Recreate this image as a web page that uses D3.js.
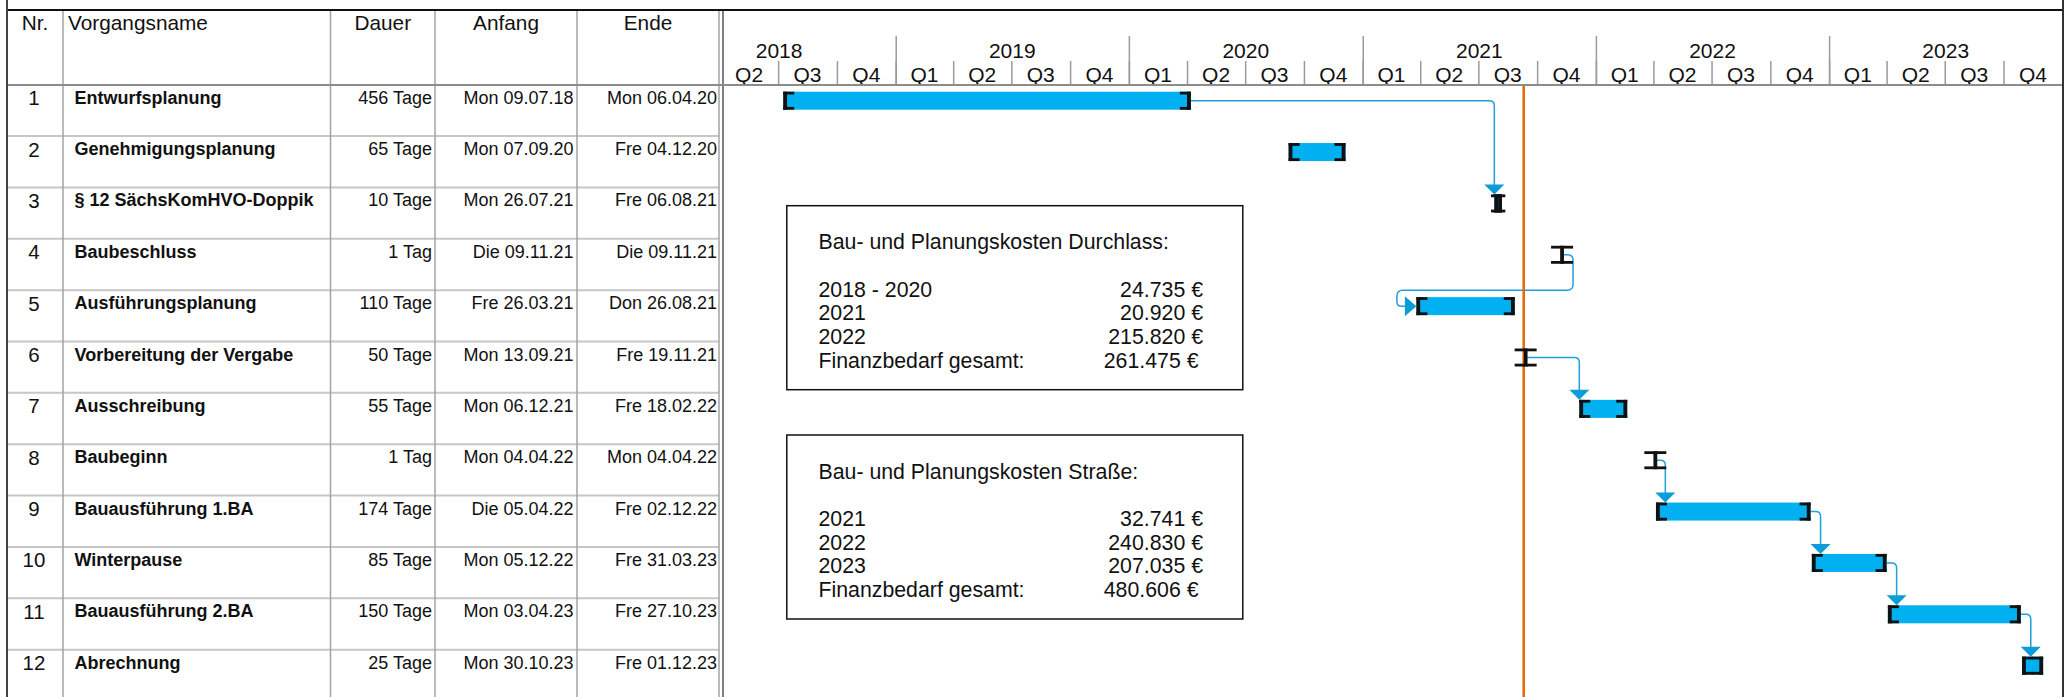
<!DOCTYPE html>
<html><head><meta charset="utf-8">
<script src="https://cdn.jsdelivr.net/npm/d3@7"></script>
<style>
body{margin:0;background:#fff;}
svg{display:block;}
text{font-family:"Liberation Sans",Arial,Helvetica,sans-serif;fill:#111;}
</style>
</head><body>
<svg id="chart" width="2069" height="697"></svg>
<script>
// ---------------- DATA ----------------
const headerLabels = ["Nr.", "Vorgangsname", "Dauer", "Anfang", "Ende"];
const taskIds = [1, 2, 3, 4, 5, 6, 7, 8, 9, 10, 11, 12];
const taskNames = ["Entwurfsplanung", "Genehmigungsplanung", "§ 12 SächsKomHVO-Doppik", "Baubeschluss",
  "Ausführungsplanung", "Vorbereitung der Vergabe", "Ausschreibung", "Baubeginn",
  "Bauausführung 1.BA", "Winterpause", "Bauausführung 2.BA", "Abrechnung"];
const taskDurations = ["456 Tage", "65 Tage", "10 Tage", "1 Tag", "110 Tage", "50 Tage", "55 Tage", "1 Tag",
  "174 Tage", "85 Tage", "150 Tage", "25 Tage"];
const taskStarts = ["Mon 09.07.18", "Mon 07.09.20", "Mon 26.07.21", "Die 09.11.21", "Fre 26.03.21", "Mon 13.09.21",
  "Mon 06.12.21", "Mon 04.04.22", "Die 05.04.22", "Mon 05.12.22", "Mon 03.04.23", "Mon 30.10.23"];
const taskEnds = ["Mon 06.04.20", "Fre 04.12.20", "Fre 06.08.21", "Die 09.11.21", "Don 26.08.21", "Fre 19.11.21",
  "Fre 18.02.22", "Mon 04.04.22", "Fre 02.12.22", "Fre 31.03.23", "Fre 27.10.23", "Fre 01.12.23"];
const taskMilestone = [false, false, false, true, false, true, false, true, false, false, false, false];
const linkFrom = [1, 4, 6, 8, 9, 10, 11];
const linkTo   = [3, 5, 7, 9, 10, 11, 12];
const statusDate = "10.09.21";
const timelineStart = "01.04.18";
const timelineEnd = "01.01.24";

const box1Title = "Bau- und Planungskosten Durchlass:";
const box1Labels = ["2018 - 2020", "2021", "2022"];
const box1Values = ["24.735 €", "20.920 €", "215.820 €"];
const box1TotalLabel = "Finanzbedarf gesamt:";
const box1Total = "261.475 €";

const box2Title = "Bau- und Planungskosten Straße:";
const box2Labels = ["2021", "2022", "2023"];
const box2Values = ["32.741 €", "240.830 €", "207.035 €"];
const box2TotalLabel = "Finanzbedarf gesamt:";
const box2Total = "480.606 €";

// ---------------- HELPERS ----------------
function parseDE(s) {
  const m = s.match(/(\d\d)\.(\d\d)\.(\d\d)$/);
  return new Date(Date.UTC(2000 + (+m[3]), (+m[2]) - 1, +m[1]));
}
function roundedPath(pts, r) {
  let d = `M${pts[0][0]},${pts[0][1]}`;
  for (let i = 1; i < pts.length - 1; i++) {
    const [x0, y0] = pts[i - 1], [x1, y1] = pts[i], [x2, y2] = pts[i + 1];
    const d1 = Math.hypot(x1 - x0, y1 - y0), d2 = Math.hypot(x2 - x1, y2 - y1);
    const rr = Math.min(r, d1 / 2, d2 / 2);
    const ax = x1 - (x1 - x0) / d1 * rr, ay = y1 - (y1 - y0) / d1 * rr;
    const bx = x1 + (x2 - x1) / d2 * rr, by = y1 + (y2 - y1) / d2 * rr;
    d += `L${ax},${ay}Q${x1},${y1} ${bx},${by}`;
  }
  const l = pts[pts.length - 1];
  d += `L${l[0]},${l[1]}`;
  return d;
}

const tasks = taskIds.map((id, i) => ({
  id, name: taskNames[i], dur: taskDurations[i], startLabel: taskStarts[i], endLabel: taskEnds[i],
  start: parseDE(taskStarts[i]), end: d3.utcDay.offset(parseDE(taskEnds[i]), 1), milestone: taskMilestone[i]
}));
const byId = new Map(tasks.map(t => [t.id, t]));

// ---------------- LAYOUT ----------------
const svg = d3.select("#chart");
const W = 2069, H = 697;
const frameL = 7, frameR = 2063, frameT = 10, headerB = 85;
const colX = [7, 63, 330.5, 435, 577, 719];
const ganttL = 720, ganttR = 2062.3;

const x = d3.scaleUtc().domain([parseDE(timelineStart), parseDE(timelineEnd)]).range([ganttL, ganttR]);
const y = d3.scaleBand().domain(taskIds).range([84.7, 84.7 + 12 * 51.36]).padding(0);
const barOff = 7, barH = 18;

// ---------------- TABLE ----------------
const tbl = svg.append("g");
tbl.selectAll("line.row").data(taskIds).join("line")
  .attr("x1", colX[0]).attr("x2", colX[5])
  .attr("y1", d => y(d) + y.bandwidth()).attr("y2", d => y(d) + y.bandwidth())
  .attr("stroke", "#c6c6c6").attr("stroke-width", 2);
tbl.selectAll("line.col").data(colX.slice(1)).join("line")
  .attr("x1", d => d).attr("x2", d => d).attr("y1", frameT).attr("y2", H)
  .attr("stroke", "#a3a3a3").attr("stroke-width", 1.5);
svg.append("line").attr("x1", 723).attr("x2", 723).attr("y1", frameT).attr("y2", H)
  .attr("stroke", "#555").attr("stroke-width", 1.5);

const hdrPos = [
  { x: (colX[0] + colX[1]) / 2, a: "middle" },
  { x: colX[1] + 5, a: "start" },
  { x: (colX[2] + colX[3]) / 2, a: "middle" },
  { x: (colX[3] + colX[4]) / 2, a: "middle" },
  { x: (colX[4] + colX[5]) / 2, a: "middle" }
];
tbl.selectAll("text.hdr").data(headerLabels).join("text")
  .attr("x", (d, i) => hdrPos[i].x).attr("y", 29.5).attr("text-anchor", (d, i) => hdrPos[i].a)
  .attr("font-size", 20.8).text(d => d);

const rows = tbl.selectAll("g.r").data(tasks).join("g");
rows.append("text").attr("x", (colX[0] + colX[1]) / 2 - 1).attr("y", d => y(d.id) + 20.5)
  .attr("text-anchor", "middle").attr("font-size", 20.5).text(d => d.id);
rows.append("text").attr("x", 74.5).attr("y", d => y(d.id) + 19)
  .attr("font-size", 18).attr("font-weight", "bold").text(d => d.name);
rows.append("text").attr("x", colX[3] - 3).attr("y", d => y(d.id) + 19)
  .attr("text-anchor", "end").attr("font-size", 18).text(d => d.dur);
rows.append("text").attr("x", colX[4] - 3.5).attr("y", d => y(d.id) + 19)
  .attr("text-anchor", "end").attr("font-size", 18).text(d => d.startLabel);
rows.append("text").attr("x", colX[5] - 2).attr("y", d => y(d.id) + 19)
  .attr("text-anchor", "end").attr("font-size", 18).text(d => d.endLabel);

// ---------------- TIMESCALE HEADER ----------------
const quarters = d3.utcMonth.every(3).range(x.domain()[0], x.domain()[1]);
const yearsAll = d3.utcYear.range(d3.utcYear.floor(x.domain()[0]), x.domain()[1]);
const yearStarts = yearsAll.filter(d => x(d) > ganttL + 1);

const qAxis = d3.axisTop(x).tickValues(quarters.filter(d => x(d) > ganttL + 1)).tickSize(24).tickFormat("");
const gq = svg.append("g").attr("transform", `translate(0,${headerB})`).call(qAxis);
gq.select(".domain").remove();
gq.selectAll(".tick line").attr("stroke", "#9a9a9a").attr("stroke-width", 1.5);

const yAxis = d3.axisTop(x).tickValues(yearStarts).tickSize(49).tickFormat("");
const gy = svg.append("g").attr("transform", `translate(0,${headerB})`).call(yAxis);
gy.select(".domain").remove();
gy.selectAll(".tick line").attr("stroke", "#9a9a9a").attr("stroke-width", 1.5);

svg.selectAll("text.q").data(quarters).join("text")
  .attr("x", d => (x(d) + x(d3.utcMonth.offset(d, 3))) / 2).attr("y", 82)
  .attr("text-anchor", "middle").attr("font-size", 21)
  .text(d => "Q" + (Math.floor(d.getUTCMonth() / 3) + 1));
svg.selectAll("text.yr").data(yearsAll).join("text")
  .attr("x", d => (x(d) + x(d3.utcYear.offset(d, 1))) / 2).attr("y", 58)
  .attr("text-anchor", "middle").attr("font-size", 21)
  .text(d => d.getUTCFullYear());

svg.append("line").attr("x1", frameL).attr("x2", frameR).attr("y1", headerB).attr("y2", headerB)
  .attr("stroke", "#8c8c8c").attr("stroke-width", 2);
svg.append("line").attr("x1", frameL).attr("x2", frameR).attr("y1", frameT).attr("y2", frameT)
  .attr("stroke", "#111").attr("stroke-width", 2);
svg.append("line").attr("x1", frameL).attr("x2", frameL).attr("y1", 0).attr("y2", H)
  .attr("stroke", "#444").attr("stroke-width", 2);
svg.append("line").attr("x1", frameR).attr("x2", frameR).attr("y1", 0).attr("y2", H)
  .attr("stroke", "#333").attr("stroke-width", 2);

// ---------------- COST BOXES ----------------
function costBox(top, title, labels, values, totalLabel, total) {
  const g = svg.append("g");
  g.append("rect").attr("x", 786.8).attr("y", top).attr("width", 456).attr("height", 184)
    .attr("fill", "#fff").attr("stroke", "#111").attr("stroke-width", 1.5);
  g.append("text").attr("x", 818.5).attr("y", top + 43.5).attr("font-size", 21.3).text(title);
  const lines = labels.map((l, i) => ({ l, v: values[i] }));
  g.selectAll("text.l").data(lines).join("text").attr("x", 818.5)
    .attr("y", (d, i) => top + 91 + i * 23.7).attr("font-size", 21.3).text(d => d.l);
  g.selectAll("text.v").data(lines).join("text").attr("x", 1203).attr("text-anchor", "end")
    .attr("y", (d, i) => top + 91 + i * 23.7).attr("font-size", 21.3).text(d => d.v);
  g.append("text").attr("x", 818.5).attr("y", top + 91 + 3 * 23.7).attr("font-size", 21.3).text(totalLabel);
  g.append("text").attr("x", 1198.5).attr("text-anchor", "end").attr("y", top + 91 + 3 * 23.7)
    .attr("font-size", 21.3).text(total);
}
costBox(205.7, box1Title, box1Labels, box1Values, box1TotalLabel, box1Total);
costBox(435, box2Title, box2Labels, box2Values, box2TotalLabel, box2Total);

// ---------------- LINKS ----------------
const lineCol = "#1ea0dc", arrowCol = "#0b9dd8";
const gl = svg.append("g");
linkFrom.forEach((f, i) => {
  const p = byId.get(f), s = byId.get(linkTo[i]);
  const pEnd = p.milestone ? x(p.start) : x(p.end);
  const pMid = y(p.id) + barOff + barH / 2;
  const sStart = x(s.start);
  const sTop = y(s.id) + barOff;
  const sMid = sTop + barH / 2;
  if (sStart >= pEnd) {
    const ax = Math.max(sStart, pEnd + 10);
    gl.append("path").attr("d", roundedPath([[pEnd, pMid], [ax, pMid], [ax, sTop - 9]], 5))
      .attr("fill", "none").attr("stroke", lineCol).attr("stroke-width", 1.5);
    gl.append("path").attr("d", `M${ax - 10},${sTop - 10}L${ax + 10},${sTop - 10}L${ax},${sTop}Z`)
      .attr("fill", arrowCol);
  } else {
    const rx = pEnd + 11, lx = sStart - 19.5, rowTop = y(s.id);
    gl.append("path").attr("d", roundedPath([[pEnd, pMid], [rx, pMid], [rx, rowTop], [lx, rowTop], [lx, sMid], [sStart - 10, sMid]], 6))
      .attr("fill", "none").attr("stroke", lineCol).attr("stroke-width", 1.5);
    gl.append("path").attr("d", `M${sStart - 11.5},${sMid - 10}L${sStart},${sMid}L${sStart - 11.5},${sMid + 10}Z`)
      .attr("fill", arrowCol);
  }
});

// ---------------- STATUS LINE ----------------
svg.append("line").attr("x1", x(parseDE(statusDate))).attr("x2", x(parseDE(statusDate)))
  .attr("y1", headerB + 1).attr("y2", H).attr("stroke", "#e46c0a").attr("stroke-width", 2.6);

// ---------------- BARS ----------------
const gb = svg.append("g");
const stemW = 3.8, armL = 11, armT = 2.8, brCol = "#111";
tasks.forEach(t => {
  const top = y(t.id) + barOff;
  const xs = x(t.start), xe = x(t.end);
  if (t.milestone) {
    gb.append("rect").attr("x", xs - stemW / 2).attr("y", top).attr("width", stemW).attr("height", barH).attr("fill", brCol);
    gb.append("rect").attr("x", xs - armL).attr("y", top).attr("width", armL * 2).attr("height", armT).attr("fill", brCol);
    gb.append("rect").attr("x", xs - armL).attr("y", top + barH - armT).attr("width", armL * 2).attr("height", armT).attr("fill", brCol);
    return;
  }
  gb.append("rect").attr("x", xs).attr("y", top).attr("width", xe - xs).attr("height", barH).attr("fill", "#00b0f0");
  gb.append("rect").attr("x", xs).attr("y", top).attr("width", stemW).attr("height", barH).attr("fill", brCol);
  gb.append("rect").attr("x", xs).attr("y", top).attr("width", armL).attr("height", armT).attr("fill", brCol);
  gb.append("rect").attr("x", xs).attr("y", top + barH - armT).attr("width", armL).attr("height", armT).attr("fill", brCol);
  gb.append("rect").attr("x", xe - stemW).attr("y", top).attr("width", stemW).attr("height", barH).attr("fill", brCol);
  gb.append("rect").attr("x", xe - armL).attr("y", top).attr("width", armL).attr("height", armT).attr("fill", brCol);
  gb.append("rect").attr("x", xe - armL).attr("y", top + barH - armT).attr("width", armL).attr("height", armT).attr("fill", brCol);
});
</script>
</body></html>
